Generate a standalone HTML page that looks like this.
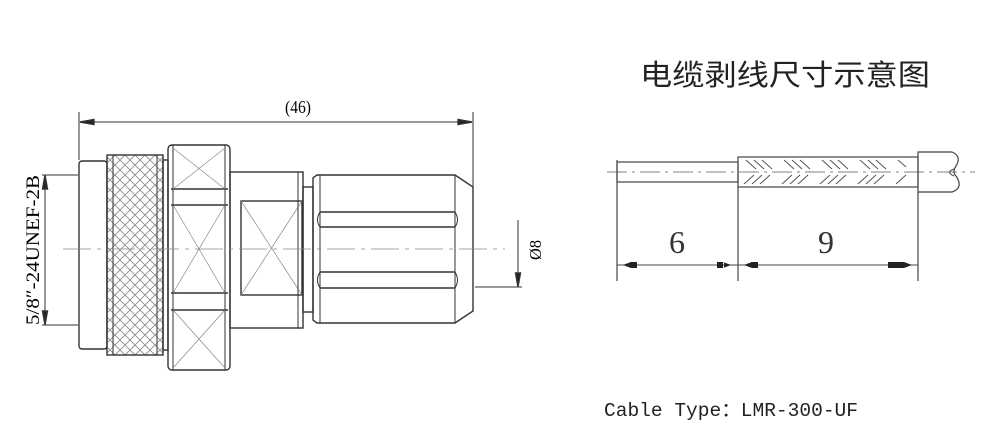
<!DOCTYPE html>
<html><head><meta charset="utf-8"><style>
body{margin:0;background:#fff;}
svg{display:block}
</style></head><body>
<svg width="1000" height="445" viewBox="0 0 1000 445" xmlns="http://www.w3.org/2000/svg">
<defs>
<pattern id="kn" width="10" height="10" patternUnits="userSpaceOnUse">
<path d="M0 0L10 10M10 0L0 10" stroke="#888" stroke-width="0.8"/>
</pattern>
</defs>
<g fill="none" stroke="#333" stroke-width="1.4">
<line x1="79" y1="112" x2="79" y2="160" stroke-width="1"/>
<line x1="473" y1="112" x2="473" y2="190" stroke-width="1"/>
<line x1="80" y1="122" x2="472" y2="122" stroke-width="1"/>
<path d="M80 122l14-2.5v5z M472 122l-14-2.5v5z" fill="#222"/>
<rect x="79" y="161" width="28" height="188" rx="3"/>
<rect x="107" y="155" width="56" height="200" fill="url(#kn)"/>
<line x1="113" y1="155" x2="113" y2="355" stroke-width="1"/>
<line x1="157" y1="155" x2="157" y2="355" stroke-width="1"/>
<rect x="163" y="160" width="5" height="190"/>
<rect x="168" y="145" width="62" height="225" rx="4"/>
<line x1="171" y1="189" x2="228" y2="189"/><line x1="171" y1="205" x2="228" y2="205"/>
<line x1="171" y1="293" x2="228" y2="293"/><line x1="171" y1="310" x2="228" y2="310"/>
<line x1="173" y1="145" x2="173" y2="370" stroke-width="1"/>
<line x1="225" y1="145" x2="225" y2="370" stroke-width="1"/>
<g stroke-width="0.7" stroke="#888">
<path d="M173 148L225 189M225 148L173 189"/>
<path d="M173 205L225 293M225 205L173 293"/>
<path d="M173 310L225 368M225 310L173 368"/>
</g>
<rect x="230" y="172" width="73" height="156"/>
<rect x="241" y="201" width="61" height="94"/>
<path d="M241 201L302 295M302 201L241 295" stroke-width="0.7" stroke="#888"/>
<line x1="298" y1="172" x2="298" y2="328" stroke-width="1"/>
<rect x="303" y="187" width="10" height="125"/>
<path d="M317 175H455L473 187V311L455 323H317L313 320V178Z"/>
<line x1="320" y1="175" x2="320" y2="323" stroke-width="1"/>
<line x1="455" y1="175" x2="455" y2="323" stroke-width="1"/>
<path d="M320 212H455M320 227H455M320 272H455M320 288H455"/>
<path d="M320 212Q315 220 320 227M320 272Q315 280 320 288M455 212Q460 220 455 227M455 272Q460 280 455 288" stroke-width="1"/>
<line x1="63" y1="249" x2="505" y2="249" stroke="#888" stroke-width="0.8" stroke-dasharray="28,6,4,6"/>
<line x1="45" y1="175" x2="45" y2="325" stroke-width="1"/>
<line x1="42" y1="175" x2="78" y2="175" stroke-width="1"/>
<line x1="42" y1="325" x2="78" y2="325" stroke-width="1"/>
<path d="M45 175l-2.5 14h5z M45 325l-2.5-14h5z" fill="#222"/>
<line x1="475" y1="287" x2="522" y2="287" stroke-width="1"/>
<line x1="518" y1="220" x2="518" y2="287" stroke-width="1"/>
<path d="M518 287l-2.5-14h5z" fill="#222"/>
</g>
<text x="298" y="113" font-family="Liberation Serif,serif" font-size="18" text-anchor="middle" textLength="26" lengthAdjust="spacingAndGlyphs">(46)</text>
<text transform="translate(39,250) rotate(-90)" font-family="Liberation Serif,serif" font-size="19" text-anchor="middle" textLength="150" lengthAdjust="spacingAndGlyphs">5/8″-24UNEF-2B</text>
<text transform="translate(541,250) rotate(-90)" font-family="Liberation Serif,serif" font-size="17" text-anchor="middle" textLength="20" lengthAdjust="spacingAndGlyphs">Ø8</text>

<text x="785" y="85" font-family="Liberation Sans,'Noto Sans CJK SC',sans-serif" font-size="29" text-anchor="middle" fill="#222" textLength="290" lengthAdjust="spacingAndGlyphs">电缆剥线尺寸示意图</text>
<g fill="none" stroke="#444" stroke-width="1.2">
<rect x="617" y="162" width="121" height="20"/>
<rect x="738" y="157" width="180" height="30"/>
<path d="M918 152H952Q962 156 956 166Q952 172 956 176Q964 188 952 192H918Z"/>
<path d="M954 169Q945 172 954 176" stroke-width="1"/>
<g stroke="#555" stroke-width="1">
<path d="M746 160l10 9M754 160l10 9M762 160l10 9M784 160l10 9M792 160l10 9M800 160l10 9M822 160l10 9M830 160l10 9M838 160l10 9M860 160l10 9M868 160l10 9M876 160l10 9M898 160l8 7"/>
<path d="M744 184l10-9M752 184l10-9M760 184l10-9M782 184l10-9M790 184l10-9M798 184l10-9M820 184l10-9M828 184l10-9M836 184l10-9M858 184l10-9M866 184l10-9M874 184l10-9M896 184l10-9"/>
</g>
<line x1="607" y1="172" x2="975" y2="172" stroke="#555" stroke-width="0.8" stroke-dasharray="20,5,3,5"/>
<line x1="617" y1="160" x2="617" y2="281"/>
<line x1="738" y1="187" x2="738" y2="281"/>
<line x1="918" y1="192" x2="918" y2="281"/>
<line x1="617" y1="265" x2="918" y2="265" stroke-width="1"/>
<path d="M623 265l8-3v6zM630 262h7v6h-7z M731 265l-8-3v6zM717 262h7v6h-7z M744 265l8-3v6zM751 262h7v6h-7z M912 265l-8-3v6zM888 262h16v6h-16z" fill="#222" stroke="none"/>
</g>
<text x="677" y="253" font-family="Liberation Serif,serif" font-size="32" text-anchor="middle" fill="#333">6</text>
<text x="826" y="253" font-family="Liberation Serif,serif" font-size="32" text-anchor="middle" fill="#333">9</text>
<text x="604" y="416" font-family="Liberation Mono,'Noto Sans CJK SC',monospace" font-size="19" fill="#222" textLength="254" lengthAdjust="spacingAndGlyphs">Cable Type：LMR-300-UF</text>
</svg>
</body></html>
